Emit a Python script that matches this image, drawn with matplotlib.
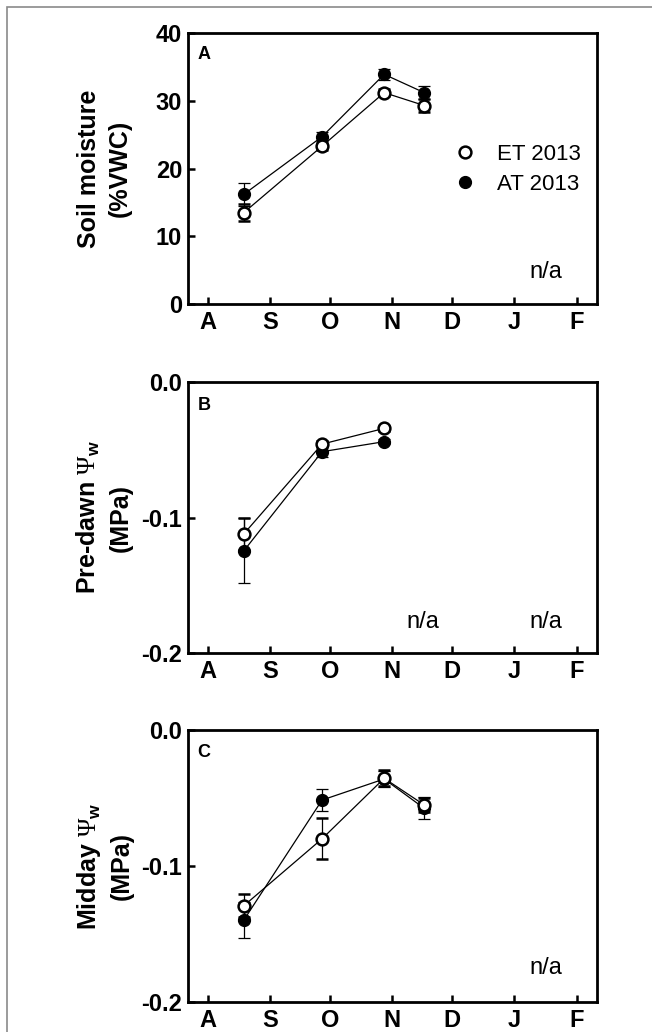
import matplotlib
matplotlib.use("Agg")
import matplotlib.pyplot as plt
from matplotlib.patches import Rectangle
from matplotlib.lines import Line2D
import pandas as pd

plt.rcParams['font.family'] = ['Liberation Sans', 'DejaVu Sans']
plt.rcParams['mathtext.fontset'] = 'custom'
plt.rcParams['mathtext.rm'] = 'Liberation Serif'
plt.rcParams['mathtext.bf'] = 'Liberation Sans:bold'
plt.rcParams['mathtext.it'] = 'Liberation Sans:italic'

# sampling dates
dates_a = pd.to_datetime(["2013-08-19", "2013-09-27", "2013-10-28", "2013-11-17"])
dates_b = dates_a[:3]
dates_c = dates_a

# A: soil moisture (%VWC)
et_a = [13.5, 23.3, 31.2, 29.3]
et_a_err = [1.2, 0.5, 0.5, 0.9]
at_a = [16.2, 24.7, 33.9, 31.2]
at_a_err = [1.7, 0.7, 0.8, 1.0]

# B: pre-dawn water potential (MPa)
et_b = [-0.112, -0.0458, -0.0342]
et_b_err = [0.012, 0.002, 0.002]
at_b = [-0.1245, -0.0514, -0.044]
at_b_err = [0.024, 0.004, 0.002]

# C: midday water potential (MPa)
et_c = [-0.1292, -0.080, -0.0355, -0.0551]
et_c_err = [0.0085, 0.015, 0.006, 0.005]
at_c = [-0.1397, -0.0515, -0.036, -0.0576]
at_c_err = [0.0135, 0.008, 0.006, 0.008]

month_letters = ['A', 'S', 'O', 'N', 'D', 'J', 'F']
legend_labels = ['ET 2013', 'AT 2013']

fig = plt.figure(figsize=(6.52, 10.32), dpi=100)
fig.patches.append(Rectangle((7 / 652, -0.5), 2, 0.5 + 1 - 7 / 1032,
                             transform=fig.transFigure, fill=False,
                             edgecolor='#8a8a8a', lw=1.2))

positions = [[0.288, 0.7054, 0.627, 0.2626],
             [0.288, 0.3672, 0.627, 0.2626],
             [0.288, 0.0291, 0.627, 0.2635]]

MS = 8.5


def draw(ax, dates, et, et_err, at, at_err):
    ax.errorbar(dates, at, yerr=at_err, fmt='-o', color='black', mfc='black',
                mec='black', ms=MS, lw=0.9, elinewidth=0.9, capsize=4,
                capthick=0.9, zorder=3)
    ax.errorbar(dates, et, yerr=et_err, fmt='-o', color='black', mfc='white',
                mec='black', ms=MS, mew=1.8, lw=0.9, elinewidth=0.9, capsize=4,
                capthick=0.9, zorder=4)


def style(ax):
    ax.set_xlim(pd.Timestamp("2013-07-22"), pd.Timestamp("2014-02-11"))
    ax.set_xticks(pd.date_range("2013-08-01", "2014-02-01", freq='MS'))
    ax.set_xticklabels(month_letters)
    for s in ax.spines.values():
        s.set_linewidth(2.0)
    ax.tick_params(direction='in', length=5, width=1.8, labelsize=17, pad=5)
    ax.tick_params(axis='y', pad=4)
    for lab in ax.get_xticklabels() + ax.get_yticklabels():
        lab.set_fontweight('bold')


def ylab(ax, s):
    ax.text(-0.205, 0.5, s, transform=ax.transAxes, rotation=90,
            ha='center', va='center', fontsize=18, fontweight='bold',
            linespacing=1.35)


ax_a = fig.add_axes(positions[0])
draw(ax_a, dates_a, et_a, et_a_err, at_a, at_a_err)
style(ax_a)
ax_a.set_ylim(0, 40)
ax_a.set_yticks([0, 10, 20, 30, 40])
ax_a.set_yticklabels(['0', '10', '20', '30', '40'], fontweight='bold')
ylab(ax_a, 'Soil moisture\n(%VWC)')
ax_a.text(0.024, 0.92, 'A', transform=ax_a.transAxes, fontsize=13,
          fontweight='bold', va='center', ha='left')
ax_a.text(0.875, 0.118, 'n/a', transform=ax_a.transAxes, fontsize=17,
          ha='center', va='center')
handles = [Line2D([], [], ls='none', marker='o', ms=MS, mfc='white',
                  mec='black', mew=1.8),
           Line2D([], [], ls='none', marker='o', ms=MS, mfc='black',
                  mec='black')]
ax_a.legend(handles, legend_labels, loc='center left',
            bbox_to_anchor=(0.645, 0.498), frameon=False, fontsize=16,
            handlelength=1.2, handletextpad=0.85, labelspacing=0.4,
            borderpad=0, borderaxespad=0)

ax_b = fig.add_axes(positions[1])
draw(ax_b, dates_b, et_b, et_b_err, at_b, at_b_err)
style(ax_b)
ax_b.set_ylim(-0.2, 0)
ax_b.set_yticks([-0.2, -0.1, 0.0])
ax_b.set_yticklabels(['-0.2', '-0.1', '0.0'], fontweight='bold')
ylab(ax_b, 'Pre-dawn $\\Psi_{\\mathbf{w}}$\n(MPa)')
ax_b.text(0.024, 0.915, 'B', transform=ax_b.transAxes, fontsize=13,
          fontweight='bold', va='center', ha='left')
ax_b.text(0.575, 0.114, 'n/a', transform=ax_b.transAxes, fontsize=17,
          ha='center', va='center')
ax_b.text(0.875, 0.114, 'n/a', transform=ax_b.transAxes, fontsize=17,
          ha='center', va='center')

ax_c = fig.add_axes(positions[2])
draw(ax_c, dates_c, et_c, et_c_err, at_c, at_c_err)
style(ax_c)
ax_c.set_ylim(-0.2, 0)
ax_c.set_yticks([-0.2, -0.1, 0.0])
ax_c.set_yticklabels(['-0.2', '-0.1', '0.0'], fontweight='bold')
ylab(ax_c, 'Midday $\\Psi_{\\mathbf{w}}$\n(MPa)')
ax_c.text(0.024, 0.919, 'C', transform=ax_c.transAxes, fontsize=13,
          fontweight='bold', va='center', ha='left')
ax_c.text(0.875, 0.125, 'n/a', transform=ax_c.transAxes, fontsize=17,
          ha='center', va='center')

fig.savefig('out.png', dpi=100)
